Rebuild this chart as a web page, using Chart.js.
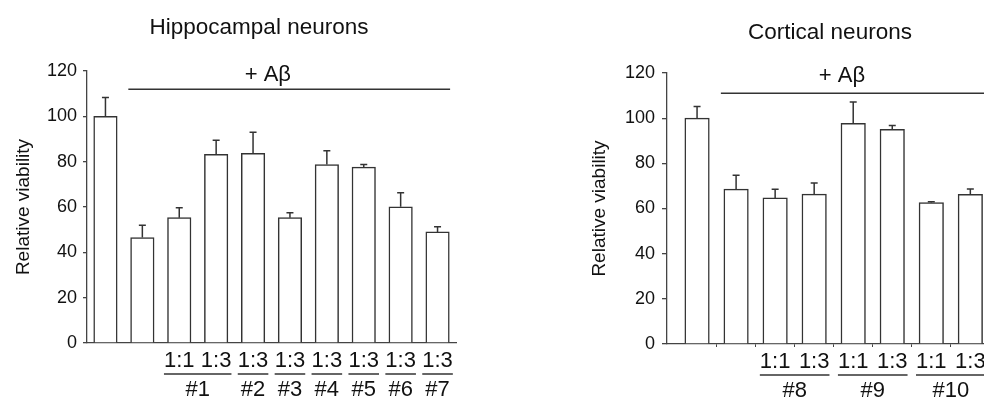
<!DOCTYPE html>
<html>
<head>
<meta charset="utf-8">
<script src="https://cdn.jsdelivr.net/npm/chart.js@4.4.1/dist/chart.umd.min.js"></script>
<style>
  html, body { margin: 0; padding: 0; background: #fff; overflow: hidden; width: 984px; height: 405px; }
  .panel { position: absolute; top: 0; height: 405px; }
  #left { left: 0; width: 490px; }
  #right { left: 490px; width: 494px; }
</style>
</head>
<body>
<div class="panel" id="left"><canvas id="hippoChart"></canvas></div>
<div class="panel" id="right"><canvas id="cortChart"></canvas></div>
<script>
// Hippocampal neurons
const hippoRatios = ['', '', '1:1', '1:3', '1:3', '1:3', '1:3', '1:3', '1:3', '1:3'];
const hippoGroups = ['', '', '#1', '#1', '#2', '#3', '#4', '#5', '#6', '#7'];
const hippoViability = [100, 46.5, 55.3, 83.2, 83.7, 55.3, 78.7, 77.6, 60.1, 49];
const hippoError = [8.3, 5.5, 4.4, 6.3, 9.3, 2.2, 6.1, 1.1, 6.2, 2.3];

// Cortical neurons (figure is cut off at the right edge)
const cortRatios = ['', '', '1:1', '1:3', '1:1', '1:3', '1:1', '1:3'];
const cortGroups = ['', '', '#8', '#8', '#9', '#9', '#10', '#10'];
const cortViability = [100, 68.6, 64.7, 66.4, 97.7, 95.1, 62.6, 66.3];
const cortError = [5.2, 6.1, 3.8, 4.9, 9.5, 1.6, 0.4, 2.3];

const FONT = '"Liberation Sans", Arial, Helvetica, sans-serif';
const INK = '#333';
const AXIS = '#444';
const TEXT = '#111';

Chart.defaults.font.family = FONT;
Chart.defaults.color = TEXT;

// error bars, titles, the "+ Aβ" bracket and the two-row x labels
function figurePlugin(cfg) {
    return {
        id: 'figure',
        afterDatasetsDraw(chart) {
            const { ctx, chartArea } = chart;
            const x = chart.scales.x, y = chart.scales.y;
            const bars = chart.getDatasetMeta(0).data;
            ctx.save();
            ctx.strokeStyle = INK;
            ctx.lineWidth = 1.5;

            cfg.errors.forEach((e, i) => {
                const bx = bars[i].x;
                const top = y.getPixelForValue(cfg.values[i] + e);
                ctx.beginPath();
                ctx.moveTo(bx, bars[i].y);
                ctx.lineTo(bx, top);
                ctx.moveTo(bx - 3.5, top);
                ctx.lineTo(bx + 3.5, top);
                ctx.stroke();
            });

            ctx.fillStyle = TEXT;
            ctx.textAlign = 'center';
            ctx.textBaseline = 'middle';
            ctx.font = `22.5px ${FONT}`;
            ctx.fillText(cfg.title, cfg.titleX, cfg.titleY);

            ctx.font = `22px ${FONT}`;
            const ly = y.getPixelForValue(cfg.abY);
            ctx.beginPath();
            ctx.moveTo(x.getPixelForValue(cfg.abFrom), ly);
            ctx.lineTo(x.getPixelForValue(cfg.abTo), ly);
            ctx.stroke();
            ctx.fillText('+ A\u03B2', x.getPixelForValue(cfg.abLabelX), y.getPixelForValue(cfg.abLabelY));

            const base = chartArea.bottom;
            cfg.ratios.forEach((r, i) => {
                if (r) ctx.fillText(r, bars[i].x, base + 18);
            });
            const half = ctx.measureText('1:3').width / 2;
            let i = 0;
            while (i < cfg.groups.length) {
                let j = i;
                while (j + 1 < cfg.groups.length && cfg.groups[j + 1] === cfg.groups[i]) j++;
                if (cfg.groups[i]) {
                    ctx.beginPath();
                    ctx.moveTo(bars[i].x - half, base + 31);
                    ctx.lineTo(bars[j].x + half, base + 31);
                    ctx.stroke();
                    ctx.fillText(cfg.groups[i], (bars[i].x + bars[j].x) / 2, base + 46.5);
                }
                i = j + 1;
            }
            ctx.restore();
        }
    };
}

function makeChart(id, values, opts) {
    return new Chart(document.getElementById(id), {
        type: 'bar',
        data: {
            datasets: [{
                data: values.map((v, i) => ({ x: i + 0.5, y: v })),
                backgroundColor: '#fff',
                borderColor: INK,
                borderWidth: 1.5,
                borderSkipped: 'bottom',
                barThickness: opts.barWidth
            }]
        },
        options: {
            responsive: true,
            maintainAspectRatio: false,
            animation: false,
            events: [],
            layout: { padding: { top: opts.top, right: opts.right, left: 0, bottom: 0 } },
            plugins: { legend: { display: false }, tooltip: { enabled: false } },
            scales: {
                x: {
                    type: 'linear',
                    offset: false,
                    min: opts.xMin,
                    max: opts.xMax,
                    z: 1,
                    ticks: { display: false, stepSize: 1, includeBounds: false },
                    grid: {
                        display: opts.xTicks,
                        offset: false,
                        drawOnChartArea: false,
                        tickLength: 3,
                        color: (c) => (c.tick && c.tick.value === 0 ? 'rgba(0,0,0,0)' : AXIS)
                    },
                    border: { color: AXIS, width: 1.3 },
                    afterFit(s) { s.height = opts.xHeight; }
                },
                y: {
                    min: 0,
                    max: 120,
                    ticks: { stepSize: 20, font: { size: 18 }, color: TEXT, padding: opts.tickPad },
                    grid: { drawOnChartArea: false, tickLength: opts.tickLen, color: AXIS, lineWidth: 1.3 },
                    border: { color: AXIS, width: 1.3 },
                    title: {
                        display: true,
                        text: 'Relative viability',
                        font: { size: 19 },
                        color: TEXT,
                        padding: { top: opts.yTitlePad, bottom: 0 }
                    },
                    afterFit(s) { s.width = opts.yWidth; }
                }
            }
        },
        plugins: [figurePlugin(opts.fig)]
    });
}

makeChart('hippoChart', hippoViability, {
    top: 71, right: 34, xMin: 0, xMax: 10, xHeight: 62, yWidth: 87,
    barWidth: 23.5, xTicks: false, tickLen: 4, tickPad: 6, yTitlePad: 12.6,
    fig: {
        values: hippoViability, errors: hippoError, ratios: hippoRatios, groups: hippoGroups,
        title: 'Hippocampal neurons', titleX: 259, titleY: 27.5,
        abY: 111.9, abFrom: 1.12, abTo: 9.84, abLabelX: 4.9, abLabelY: 118.2
    }
});

makeChart('cortChart', cortViability, {
    top: 73, right: 0, xMin: -0.27, xMax: 7.85, xHeight: 61, yWidth: 177,
    barWidth: 24.5, xTicks: true, tickLen: 5, tickPad: 7, yTitlePad: 98.6,
    fig: {
        values: cortViability, errors: cortError, ratios: cortRatios, groups: cortGroups,
        title: 'Cortical neurons', titleX: 340, titleY: 33,
        abY: 111, abFrom: 1.11, abTo: 8.5, abLabelX: 4.21, abLabelY: 118.7
    }
});
</script>
</body>
</html>
